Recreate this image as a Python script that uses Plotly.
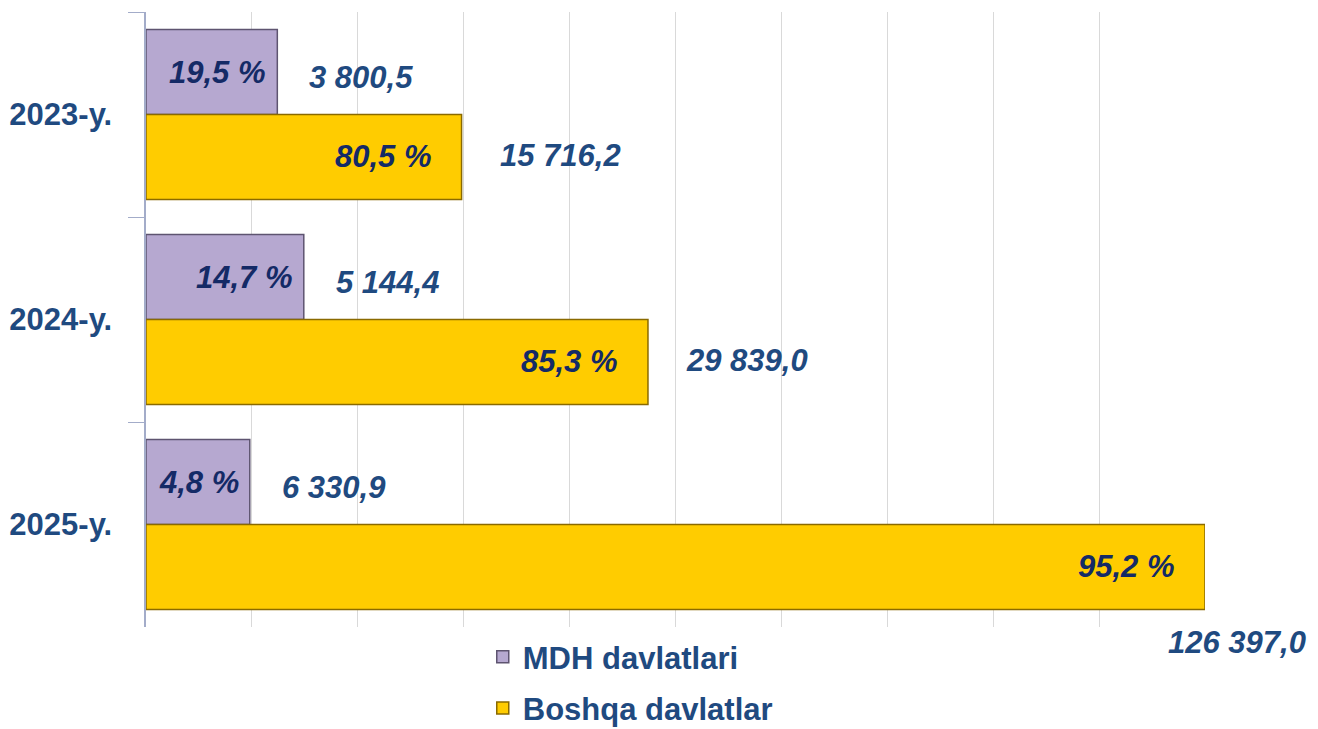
import plotly.graph_objects as go

years = ["2023-y.", "2024-y.", "2025-y."]

# bar lengths as drawn (grid units, axis 0..10)
mdh_len = [1.24, 1.49, 0.98]
other_len = [2.98, 4.74, 10.0]

mdh_pct = ["19,5 %", "14,7 %", "4,8 %"]
other_pct = ["80,5 %", "85,3 %", "95,2 %"]

mdh_val = ["3 800,5", "5 144,4", "6 330,9"]
other_val = ["15 716,2", "29 839,0", "126 397,0"]

font_fam = "Arial, Liberation Sans, sans-serif"
pct_color = "#142a66"
val_color = "#1f4a80"

fig = go.Figure()
fig.add_trace(go.Bar(
    name="MDH davlatlari", y=years, x=mdh_len, orientation="h", legendgroup="a",
    marker=dict(color="#b6a8d0", line=dict(color="#5e5470", width=1.5)),
))
fig.add_trace(go.Bar(
    name="Boshqa davlatlar", y=years, x=other_len, orientation="h", legendgroup="b",
    marker=dict(color="#ffcc00", line=dict(color="#8a6a00", width=1.5)),
))

lbl_font = dict(size=31, family=font_fam, weight="bold", style="italic")
annotations = []
for i, yr in enumerate(years):
    # percent labels inside bars
    annotations.append(dict(x=mdh_len[i], y=yr, yshift=42, xshift=-9, text=mdh_pct[i],
                            xanchor="right", showarrow=False, font=dict(lbl_font, color=pct_color)))
    annotations.append(dict(x=other_len[i], y=yr, yshift=-42, xshift=-28, text=other_pct[i],
                            xanchor="right", showarrow=False, font=dict(lbl_font, color=pct_color)))
    # values next to bars
    annotations.append(dict(x=mdh_len[i], y=yr, yshift=37, xshift=30, text=mdh_val[i],
                            xanchor="left", showarrow=False, font=dict(lbl_font, color=val_color)))
    if i < 2:
        annotations.append(dict(x=other_len[i], y=yr, yshift=-41, xshift=36, text=other_val[i],
                                xanchor="left", showarrow=False, font=dict(lbl_font, color=val_color)))
    else:
        annotations.append(dict(x=other_len[i], y=yr, yshift=-118, xshift=103, text=other_val[i],
                                xanchor="right", showarrow=False, font=dict(lbl_font, color=val_color)))

# page body adds ~8px offset, so the figure is a bit smaller than the window
fig.update_layout(
    width=1310, height=721,
    margin=dict(l=138, r=113, t=4, b=102, autoexpand=False),
    paper_bgcolor="white", plot_bgcolor="white",
    barmode="group", bargap=0.17, bargroupgap=0,
    font=dict(family=font_fam, color=val_color),
    annotations=annotations,
    legend=dict(orientation="v", x=0.318, xanchor="left", y=-0.005, yanchor="top",
                font=dict(size=31, color=val_color, family=font_fam, weight="bold"),
                traceorder="grouped", tracegroupgap=8),
    xaxis=dict(range=[0, 10], dtick=1, showticklabels=False, showgrid=True,
               gridcolor="#d9d9d9", gridwidth=1, zeroline=False, showline=False),
    yaxis=dict(autorange="reversed", tickson="boundaries", ticks="outside", ticklen=16,
               tickcolor="#a3acc9", showline=True, linecolor="#a3acc9", linewidth=1.5,
               automargin=False, ticksuffix="\u00a0\u00a0\u00a0",
               tickfont=dict(size=31, color=val_color, family=font_fam, weight="bold")),
)

fig.write_html("out.html")
